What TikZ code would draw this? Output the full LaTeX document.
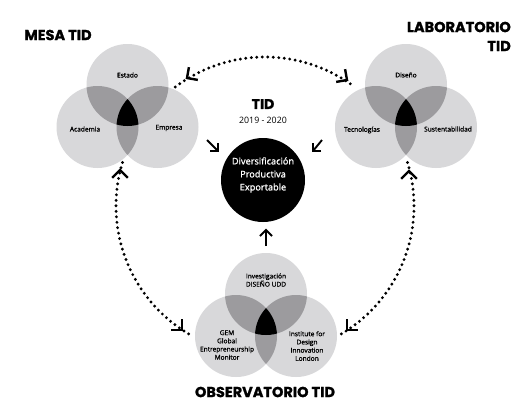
\documentclass[tikz,border=0pt]{standalone}
\usepackage{fontspec}
\setmainfont{Open Sans}
\newfontfamily\titlefont[FakeBold=1.2]{Poppins}
\newfontfamily\medfont[FakeBold=1.2]{Open Sans}
\usetikzlibrary{calc}
\definecolor{lightv}{HTML}{D8D8DA}
\definecolor{midv}{HTML}{9C9B9E}
\tikzset{
  lbl/.style={font=\medfont\fontsize{6.6}{8.2}\selectfont, align=center, inner sep=0pt},
  ttl/.style={font=\titlefont\bfseries\fontsize{14.5}{16}\selectfont, inner sep=0pt},
  dotarc/.style={line width=3.2pt, line cap=round, dash pattern=on 0pt off 5.5pt},
  chevst/.style={line width=2.4pt, line cap=butt, line join=miter},
  sarr/.style={line width=1.9pt, line join=miter},
}
\newcommand\myvenn[2]{%
  \begin{scope}[shift={(#1,#2)}]
    \fill[lightv] (0,-42) circle[radius=41pt] (-30,0) circle[radius=41pt] (30,0) circle[radius=41pt];
    \begin{scope}
      \clip (0,-42) circle[radius=41pt];
      \fill[midv] (-30,0) circle[radius=41pt] (30,0) circle[radius=41pt];
    \end{scope}
    \begin{scope}
      \clip (-30,0) circle[radius=41pt];
      \fill[midv] (30,0) circle[radius=41pt];
    \end{scope}
    \begin{scope}
      \clip (0,-42) circle[radius=41pt];
      \clip (-30,0) circle[radius=41pt];
      \fill[black] (30,0) circle[radius=41pt];
    \end{scope}
  \end{scope}}
\newcommand\chev[3]{\draw[chevst] (#1,#2) ++(#3+135:11) -- (#1,#2) -- ++(#3+225:11);}
\begin{document}
\begin{tikzpicture}[x=1pt, y=-1pt]
\useasboundingbox (0,0) rectangle (529,408);
\fill[white] (0,0) rectangle (529,408);

% Venn diagrams
\myvenn{127.5}{127}
\myvenn{406}{127}
\myvenn{266}{336}

% labels
\node[lbl] (estado) at (127.5,75) {Estado};
\node[lbl] (academia) at (85,129) {Academia};
\node[lbl] (empresa) at (169,128) {Empresa};
\node[lbl] (diseno) at (406,75) {Diseño};
\node[lbl] (tecno) at (362,130) {Tecnologías};
\node[lbl] (susten) at (448,129) {Sustentabilidad};
\node[lbl] (udd) at (266,280) {Investigación\\DISEÑO UDD};
\node[lbl] (gem) at (227,345) {GEM\\Global\\Entrepreneurship\\Monitor};
\node[lbl] (idi) at (307,346) {Institute for\\Design\\Innovation\\London};

% titles
\node[ttl] (mesa) at (58,35) {MESA TID};
\node[ttl, anchor=east] (lab1) at (511,27) {LABORATORIO};
\node[ttl, anchor=east] (lab2) at (511,46) {TID};
\node[ttl] (obs) at (265,392) {OBSERVATORIO TID};

% center
\node[font=\titlefont\bfseries\fontsize{14}{16}\selectfont, inner sep=0pt] (tid) at (263,104) {TID};
\node[font=\fontsize{8.8}{10}\selectfont, inner sep=0pt] (years) at (263,120) {2019 - 2020};
\fill[black] (263,180) circle[radius=42pt];
\node[font=\medfont\fontsize{9.2}{13}\selectfont, text=white, align=center, inner sep=0pt] (div) at (263,175) {Diversificación\\Productiva\\Exportable};

% small arrows to center
\draw[sarr] (207,140) -- (218,151);
\draw[sarr] (210,151) -- (218,151) -- (218,143);
\draw[sarr] (322,140) -- (313,151);
\draw[sarr] (321,151) -- (313,151) -- (313,143);
\draw[sarr] (266,246) -- (266,230);
\draw[sarr] (260,236) -- (266,230) -- (272,236);

% dotted arcs
\begin{scope}[shift={(265,206)}]
  \coordinate (c) at (0,0);
  \draw[dotarc] plot[domain=-127:-53, samples=80] (\x:149);
  \draw[dotarc] plot[domain=-163:-241, samples=80] (\x:149);
  \draw[dotarc] plot[domain=-17:60, samples=80] (\x:149);
\end{scope}

% chevrons
\chev{187}{78}{145}
\chev{347}{80}{35}
\chev{120}{170}{-90}
\chev{409}{171}{-90}
\chev{182}{330}{45}
\chev{347}{330}{135}
\end{tikzpicture}
\end{document}
